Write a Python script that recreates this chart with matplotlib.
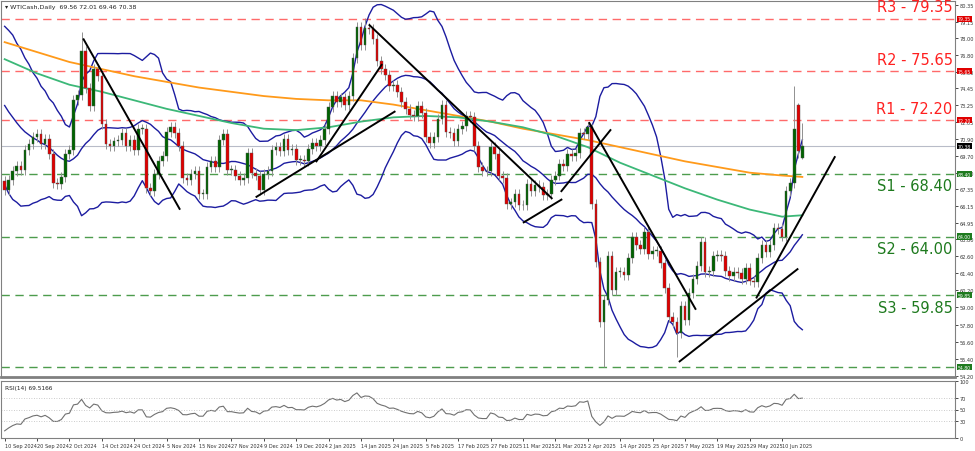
import numpy as np
import pandas as pd
import matplotlib
matplotlib.use("Agg")
import matplotlib.pyplot as plt

# daily closes, 10 Sep 2024 .. 17 Jun 2025 (one per bar)
closes = [
    67.3, 68.0, 68.6, 69.0, 68.7, 70.1, 70.5, 71.0,
    71.2, 70.5, 70.9, 69.8, 67.8, 67.7, 68.2, 69.8,
    70.1, 73.6, 74.0, 77.1, 74.5, 73.2, 75.8, 75.3,
    71.9, 70.5, 70.4, 70.7, 70.8, 71.3, 70.4, 70.8,
    70.1, 71.6, 71.6, 67.4, 67.2, 68.4, 69.3, 69.7,
    71.4, 71.7, 71.3, 70.4, 68.1, 68.0, 68.4, 68.6,
    67.0, 67.0, 68.9, 69.3, 68.9, 70.8, 71.2, 68.7,
    68.7, 68.3, 68.0, 68.1, 69.9, 68.5, 68.3, 67.3,
    68.4, 68.6, 70.1, 70.3, 70.0, 70.9, 70.1, 70.2,
    69.4, 69.4, 69.3, 70.2, 70.6, 70.4, 70.8, 71.6,
    73.1, 73.9, 73.5, 73.8, 73.3, 73.9, 76.6, 78.8,
    77.5, 78.7, 78.6, 77.9, 76.4, 75.8, 75.4, 74.6,
    74.7, 74.2, 73.5, 73.0, 72.6, 72.5, 73.2, 72.7,
    71.0, 70.6, 71.0, 72.3, 73.3, 71.4, 71.3, 70.7,
    71.6, 71.8, 72.5, 72.4, 70.4, 68.9, 68.6, 68.6,
    70.3, 69.8, 68.3, 68.1, 66.3, 66.4, 67.0, 66.2,
    66.2, 67.7, 67.2, 67.6, 67.5, 66.9, 67.0, 68.0,
    68.3, 69.1, 69.0, 69.8, 69.7, 69.9, 71.3, 71.2,
    71.7, 66.3, 62.2, 58.0, 59.5, 62.6, 60.2, 61.5,
    61.5, 61.3, 62.5, 64.0, 63.4, 63.1, 64.3, 62.8,
    63.0, 63.0, 62.1, 60.4, 58.3, 58.0, 57.2, 59.1,
    58.1, 60.0, 61.0, 61.9, 63.6, 61.5, 61.6, 62.6,
    62.7, 62.6, 61.6, 61.2, 61.5, 61.4, 61.0, 61.8,
    60.9, 60.8, 62.5, 63.4, 62.9, 63.4, 64.6, 64.5,
    64.0, 67.2, 67.8, 71.6, 70.0, 70.38,
]
# August 2024 closes used only to warm up the bands / RSI
pre_closes = [77.0, 76.2, 76.8, 75.6, 75.9, 74.8, 75.3, 74.2, 74.6, 73.4,
              73.9, 72.8, 73.4, 72.5, 72.9, 71.2, 70.1, 68.9, 67.9]
# wick extremes where the spikes are long
spike_high = {19: 78.4, 89: 79.4, 145: 71.9, 195: 74.6, 196: 73.4, 197: 72.01}
spike_low = {148: 54.8, 166: 55.5, 196: 69.5, 197: 69.46}
open_fix = {196: 73.3, 197: 69.56}

date_labels = ["10 Sep 2024", "20 Sep 2024", "2 Oct 2024", "14 Oct 2024", "24 Oct 2024",
               "5 Nov 2024", "15 Nov 2024", "27 Nov 2024", "9 Dec 2024", "19 Dec 2024",
               "2 Jan 2025", "14 Jan 2025", "24 Jan 2025", "5 Feb 2025", "17 Feb 2025",
               "27 Feb 2025", "11 Mar 2025", "21 Mar 2025", "2 Apr 2025", "14 Apr 2025",
               "25 Apr 2025", "7 May 2025", "19 May 2025", "29 May 2025", "10 Jun 2025"]

# moving averages every 8 bars (last point at bar 197)
ma_bars = list(range(0, 193, 8)) + [197]
ma200 = [77.7, 77.0, 76.3, 75.8, 75.3, 74.9, 74.5, 74.2, 73.9, 73.7, 73.6, 73.6, 73.3,
         72.9, 72.5, 72.1, 71.6, 71.2, 70.8, 70.3, 69.8, 69.3, 68.9, 68.5, 68.3, 68.2]
ma100 = [76.5, 75.5, 74.7, 74.2, 73.6, 73.0, 72.5, 72.0, 71.6, 71.5, 71.7, 72.1, 72.4,
         72.5, 72.4, 72.1, 71.7, 71.1, 70.3, 69.2, 68.3, 67.4, 66.6, 65.9, 65.4, 65.5]

levels = [("R3", 79.35), ("R2", 75.65), ("R1", 72.20),
          ("S1", 68.40), ("S2", 64.00), ("S3", 59.85)]
low_line = 54.80
last_price = 70.38

# analyst trendlines: (bar, price) -> (bar, price)
trendlines = [
    ((19.5, 77.9), (43.2, 65.95)),
    ((62.2, 66.8), (96.3, 72.8)),
    ((77.0, 69.3), (93.1, 76.1)),
    ((90.1, 78.9), (135.1, 66.7)),
    ((128.2, 65.0), (137.5, 66.6)),
    ((137.5, 67.2), (149.6, 71.5)),
    ((144.4, 72.0), (170.6, 58.9)),
    ((166.7, 55.2), (195.8, 61.7)),
    ((185.7, 59.7), (205.0, 69.6)),
]

price_ticks = [80.35, 79.15, 78.00, 76.80, 75.60, 74.45, 73.25, 72.05, 70.90, 69.70,
               68.50, 67.35, 66.15, 64.95, 63.80, 62.60, 61.40, 60.20, 59.00, 57.80,
               56.60, 55.40, 54.20]

# ---- derived series ----
n = len(closes)
c = np.array(closes)
o = np.r_[pre_closes[-1], c[:-1]]
for k, v in open_fix.items():
    o[k] = v
hi = np.maximum(o, c) + 0.35
lo = np.minimum(o, c) - 0.35
for k, v in spike_high.items():
    hi[k] = v
for k, v in spike_low.items():
    lo[k] = v

full = pd.Series(pre_closes + closes)
mid = full.rolling(20).mean()
sd = full.rolling(20).std(ddof=0)
npre = len(pre_closes)
bb_mid = mid.values[npre:]
bb_up = (mid + 2 * sd).values[npre:]
bb_lo = (mid - 2 * sd).values[npre:]

delta = full.diff()
gain = delta.clip(lower=0).ewm(alpha=1 / 14, adjust=False).mean()
loss = (-delta.clip(upper=0)).ewm(alpha=1 / 14, adjust=False).mean()
rsi = (100 - 100 / (1 + gain / loss)).values[npre:]

# ---- figure ----
W, H = 975, 452
fig = plt.figure(figsize=(W / 100, H / 100), dpi=100, facecolor="white")
ax = fig.add_axes([1 / W, 1 - 378 / H, 954 / W, 376 / H])
ax2 = fig.add_axes([1 / W, 1 - 439 / H, 954 / W, 57 / H])

x = np.arange(n)
XL = (-0.9, 234.7)
for i in range(n):
    col = "#006400" if c[i] >= o[i] else "#e00000"
    ax.vlines(i, lo[i], hi[i], color="#909090", lw=0.7, zorder=3)
    ax.bar(i, max(abs(c[i] - o[i]), 0.05), bottom=min(o[i], c[i]), width=0.65,
           color=col, edgecolor="#505050", lw=0.3, zorder=4)

ax.plot(x, bb_up, color="#1c1ca0", lw=1.0, zorder=2)
ax.plot(x, bb_mid, color="#1c1ca0", lw=1.0, zorder=2)
ax.plot(x, bb_lo, color="#1c1ca0", lw=1.0, zorder=2)
ax.plot(ma_bars, ma200, color="#ff9a1a", lw=1.3, zorder=2)
ax.plot(ma_bars, ma100, color="#3cb878", lw=1.3, zorder=2)

for (b0, p0), (b1, p1) in trendlines:
    ax.plot([b0, b1], [p0, p1], color="black", lw=1.4, zorder=5)


def price_tag(val, fc):
    ax.text(1.003, val, f"{val:.2f}", transform=ax.get_yaxis_transform(), fontsize=3.3,
            color="white", va="center", ha="left", clip_on=False,
            bbox=dict(boxstyle="square,pad=0.12", fc=fc, ec="none"))


for name, val in levels:
    is_r = name.startswith("R")
    colr = "#ff5050" if is_r else "#2e8b2e"
    tcol = "#ff2020" if is_r else "#1e7a1e"
    ax.axhline(val, color=colr, ls=(0, (6, 4)), lw=1.0, alpha=0.85, zorder=1)
    off = 0.3 if is_r else -0.3
    ax.text(XL[1] - 0.6, val + off, f"{name} - {val:.2f}", color=tcol, fontsize=10.5,
            ha="right", va="bottom" if is_r else "top", zorder=6)
    price_tag(val, "#e00000" if is_r else "#1e7a1e")
ax.axhline(low_line, color="#2e8b2e", ls=(0, (6, 4)), lw=1.0, alpha=0.85, zorder=1)
price_tag(low_line, "#1e7a1e")
ax.axhline(last_price, color="#b8bcc8", lw=0.8, zorder=1)
price_tag(last_price, "black")

ax.set_xlim(*XL)
ax.set_ylim(54.2 - 0.1, 80.35 + 0.25)
ax.yaxis.tick_right()
ax.set_yticks(price_ticks)
ax.set_yticklabels([f"{t:.2f}" for t in price_ticks], fontsize=3.6, color="#333333")
ax.tick_params(axis="y", length=2, width=0.5, pad=1.5)
ax.set_xticks([])
for s in ax.spines.values():
    s.set_color("#808080")
    s.set_linewidth(0.8)
ax.spines["bottom"].set_linewidth(2)
ax.text(0.004, 0.992, "\u25be WTICash,Daily  69.56 72.01 69.46 70.38", transform=ax.transAxes,
        fontsize=4.5, va="top", ha="left", color="#222222")

# RSI panel
ax2.plot(x, rsi, color="#707070", lw=0.8)
for lvl in (70, 50, 30):
    ax2.axhline(lvl, color="#bbbbbb", ls=(0, (1, 2)), lw=0.6)
ax2.set_xlim(*XL)
ax2.set_ylim(0, 100)
ax2.yaxis.tick_right()
ax2.set_yticks([0, 30, 50, 70, 100])
ax2.set_yticklabels(["0", "30", "50", "70", "100"], fontsize=3.6, color="#333333")
ax2.tick_params(axis="y", length=2, width=0.5, pad=1.5)
ax2.set_xticks(range(0, 193, 8))
ax2.set_xticklabels(date_labels, fontsize=3.6, color="#333333")
ax2.tick_params(axis="x", length=2, width=0.5, pad=1.5)
for lab in ax2.get_xticklabels():
    lab.set_horizontalalignment("left")
for s in ax2.spines.values():
    s.set_color("#808080")
    s.set_linewidth(0.8)
ax2.text(0.004, 0.93, f"RSI(14) {69.5166:.4f}", transform=ax2.transAxes,
         fontsize=4.2, va="top", ha="left", color="#222222")

fig.savefig("out.png", dpi=100, facecolor="white")
